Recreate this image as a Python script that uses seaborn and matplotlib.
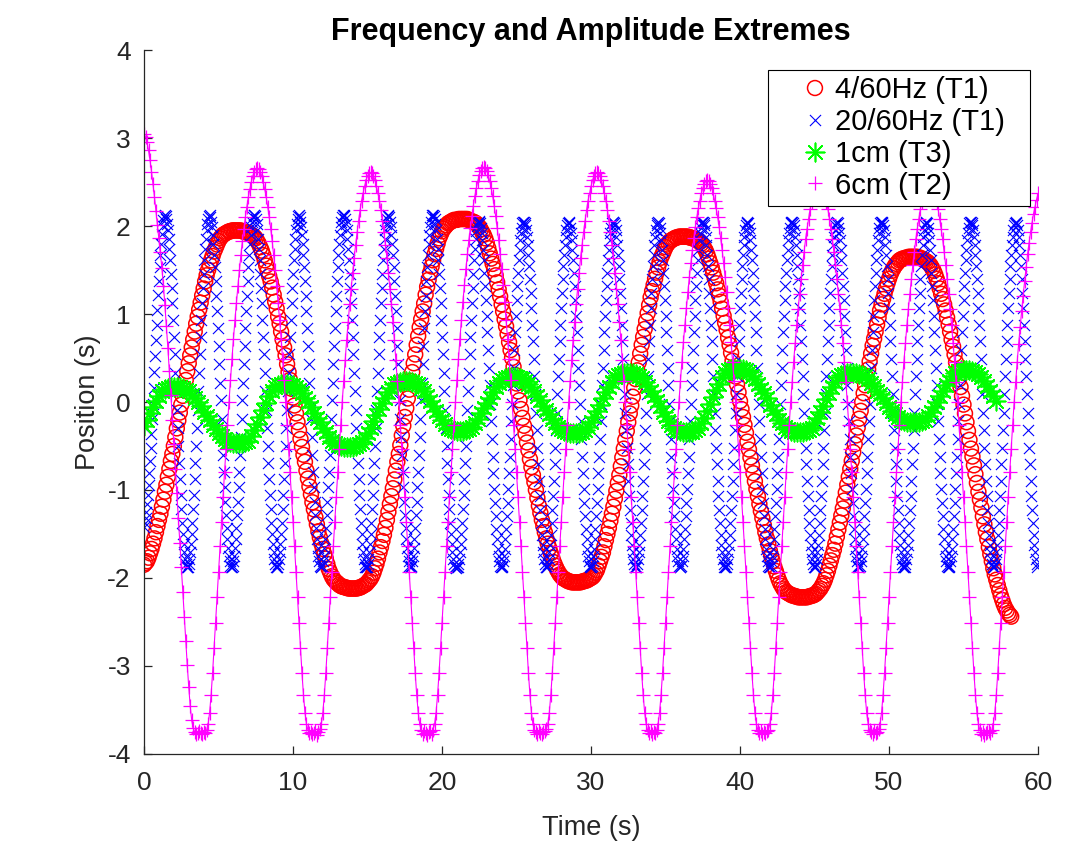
import numpy as np
import matplotlib
matplotlib.use('Agg')
import matplotlib.pyplot as plt
import seaborn as sns

# sample spacing of each trace (s)
dt_red = 0.1
dt_blue = 0.05
dt_green = 0.2
dt_pink = 0.1

# 4/60Hz (T1)
red_y = [
    -1.85, -1.83, -1.81, -1.77, -1.72, -1.67, -1.61, -1.55, -1.48, -1.41,
    -1.34, -1.27, -1.19, -1.11, -1.02, -0.94, -0.85, -0.76, -0.67, -0.59,
    -0.50, -0.40, -0.30, -0.21, -0.12, -0.03, 0.07, 0.16, 0.25, 0.35,
    0.44, 0.53, 0.62, 0.71, 0.80, 0.89, 0.97, 1.05, 1.13, 1.21,
    1.29, 1.37, 1.44, 1.50, 1.56, 1.61, 1.66, 1.71, 1.75, 1.79,
    1.83, 1.86, 1.88, 1.90, 1.91, 1.92, 1.93, 1.94, 1.94, 1.95,
    1.95, 1.95, 1.95, 1.95,
    1.95, 1.95, 1.94, 1.94, 1.93, 1.93, 1.92, 1.91, 1.90, 1.89,
    1.88, 1.86, 1.83, 1.80, 1.76, 1.72, 1.67, 1.61, 1.55, 1.49,
    1.43, 1.37, 1.30, 1.22, 1.14, 1.06, 0.97, 0.89, 0.80, 0.71,
    0.62, 0.53, 0.43, 0.34, 0.25, 0.15, 0.05, -0.04, -0.13, -0.23,
    -0.32, -0.42, -0.51, -0.60, -0.68, -0.78, -0.87, -0.96, -1.05, -1.14,
    -1.22, -1.31, -1.39, -1.47, -1.54, -1.61, -1.67, -1.73, -1.78, -1.84,
    -1.90, -1.94, -1.98, -2.01, -2.03, -2.05, -2.06, -2.08, -2.09, -2.10,
    -2.10, -2.11, -2.11, -2.12, -2.12, -2.12, -2.12, -2.12,
    -2.12, -2.12, -2.11, -2.11, -2.10, -2.09, -2.08, -2.07, -2.05, -2.03,
    -2.01, -1.98, -1.94, -1.89, -1.84, -1.78, -1.71, -1.65, -1.58, -1.51,
    -1.43, -1.34, -1.25, -1.16, -1.07, -0.98, -0.88, -0.78, -0.68, -0.59,
    -0.49, -0.38, -0.27, -0.17, -0.07, 0.04, 0.14, 0.24, 0.34, 0.44,
    0.54, 0.65, 0.75, 0.85, 0.94, 1.03, 1.12, 1.22, 1.31, 1.39,
    1.47, 1.54, 1.61, 1.68, 1.74, 1.80, 1.86, 1.90, 1.94, 1.97,
    1.99, 2.01, 2.03, 2.04, 2.05, 2.06, 2.07, 2.07, 2.07, 2.08,
    2.08, 2.08,
    2.08, 2.08, 2.08, 2.08, 2.07, 2.06, 2.05, 2.05, 2.04, 2.03,
    2.01, 1.99, 1.96, 1.93, 1.90, 1.86, 1.81, 1.75, 1.69, 1.63,
    1.57, 1.51, 1.44, 1.36, 1.28, 1.20, 1.11, 1.03, 0.94, 0.86,
    0.77, 0.68, 0.59, 0.50, 0.40, 0.31, 0.21, 0.12, 0.02, -0.08,
    -0.18, -0.27, -0.36, -0.46, -0.55, -0.65, -0.74, -0.83, -0.91, -1.00,
    -1.09, -1.18, -1.26, -1.34, -1.41, -1.48, -1.55, -1.61, -1.66, -1.72,
    -1.77, -1.82, -1.86, -1.90, -1.93, -1.96, -1.98, -2.00, -2.01, -2.02,
    -2.03, -2.04, -2.04, -2.05, -2.05, -2.05, -2.05, -2.05,
    -2.05, -2.05, -2.04, -2.04, -2.03, -2.03, -2.02, -2.01, -2.00, -1.99,
    -1.97, -1.94, -1.91, -1.86, -1.81, -1.76, -1.71, -1.64, -1.57, -1.50,
    -1.43, -1.35, -1.27, -1.19, -1.10, -1.01, -0.92, -0.83, -0.73, -0.63,
    -0.53, -0.43, -0.33, -0.23, -0.13, -0.04, 0.06, 0.16, 0.26, 0.36,
    0.45, 0.55, 0.65, 0.74, 0.83, 0.92, 1.01, 1.10, 1.19, 1.26,
    1.33, 1.40, 1.47, 1.53, 1.59, 1.64, 1.68, 1.72, 1.76, 1.79,
    1.81, 1.83, 1.84, 1.85, 1.86, 1.87, 1.87, 1.88, 1.88, 1.88,
    1.88, 1.88,
    1.88, 1.88, 1.87, 1.87, 1.86, 1.86, 1.85, 1.84, 1.83, 1.82,
    1.80, 1.78, 1.75, 1.72, 1.68, 1.63, 1.58, 1.53, 1.47, 1.41,
    1.35, 1.28, 1.21, 1.14, 1.06, 0.98, 0.90, 0.82, 0.73, 0.65,
    0.56, 0.47, 0.38, 0.29, 0.20, 0.11, 0.01, -0.08, -0.17, -0.26,
    -0.35, -0.45, -0.54, -0.63, -0.72, -0.81, -0.90, -0.99, -1.07, -1.16,
    -1.24, -1.32, -1.40, -1.48, -1.55, -1.62, -1.69, -1.75, -1.81, -1.87,
    -1.92, -1.97, -2.02, -2.06, -2.09, -2.12, -2.14, -2.16, -2.17, -2.18,
    -2.19, -2.20, -2.20, -2.21, -2.21, -2.22, -2.22, -2.22,
    -2.22, -2.22, -2.22, -2.22, -2.21, -2.21, -2.20, -2.20, -2.19, -2.18,
    -2.16, -2.14, -2.12, -2.09, -2.06, -2.02, -1.97, -1.92, -1.86, -1.80,
    -1.74, -1.68, -1.61, -1.53, -1.45, -1.37, -1.29, -1.21, -1.12, -1.03,
    -0.94, -0.85, -0.76, -0.67, -0.57, -0.48, -0.38, -0.29, -0.19, -0.10,
    0.00, 0.10, 0.19, 0.28, 0.37, 0.46, 0.55, 0.64, 0.72, 0.80,
    0.88, 0.96, 1.04, 1.11, 1.17, 1.23, 1.29, 1.35, 1.40, 1.45,
    1.49, 1.52, 1.55, 1.57, 1.59, 1.61, 1.62, 1.63, 1.63, 1.64,
    1.64, 1.65, 1.65, 1.65,
    1.65, 1.65, 1.65, 1.65, 1.64, 1.64, 1.63, 1.62, 1.61, 1.60,
    1.59, 1.57, 1.55, 1.52, 1.49, 1.45, 1.40, 1.35, 1.29, 1.23,
    1.17, 1.11, 1.04, 0.96, 0.88, 0.80, 0.71, 0.63, 0.54, 0.45,
    0.35, 0.26, 0.17, 0.07, -0.03, -0.13, -0.23, -0.33, -0.43, -0.53,
    -0.62, -0.72, -0.82, -0.92, -1.02, -1.11, -1.20, -1.30, -1.39, -1.48,
    -1.56, -1.65, -1.73, -1.81, -1.89, -1.96, -2.02, -2.08, -2.14, -2.20,
    -2.25, -2.30, -2.34, -2.37, -2.40, -2.42, -2.44,
]

# 20/60Hz (T1), one line per cycle
blue_y = [
    -1.42, -1.38, -1.32, -1.25, -1.16, -1.06, -0.94, -0.81, -0.67, -0.52, -0.36, -0.19, -0.02, 0.16, 0.34, 0.52, 0.70, 0.88, 1.05, 1.22, 1.38, 1.53, 1.67, 1.80, 1.91, 2.00, 2.07, 2.11,
    2.12, 2.11, 2.08, 2.02, 1.95, 1.85, 1.74, 1.61, 1.46, 1.30, 1.12, 0.93, 0.74, 0.54, 0.33, 0.12, -0.09, -0.30, -0.50, -0.69, -0.88, -1.06, -1.22, -1.37, -1.50, -1.61, -1.71, -1.78, -1.84, -1.87, -1.88, -1.87, -1.84, -1.78, -1.71, -1.61, -1.50, -1.37, -1.22, -1.06, -0.88, -0.69, -0.50, -0.30, -0.09, 0.12, 0.33, 0.54, 0.74, 0.93, 1.12, 1.30, 1.46, 1.61, 1.74, 1.85, 1.95, 2.02, 2.08, 2.11,
    2.12, 2.10, 2.05, 1.99, 1.90, 1.80, 1.67, 1.53, 1.38, 1.21, 1.03, 0.84, 0.64, 0.43, 0.22, 0.02, -0.19, -0.40, -0.60, -0.79, -0.97, -1.14, -1.29, -1.43, -1.56, -1.66, -1.75, -1.81, -1.86, -1.88, -1.88, -1.86, -1.81, -1.75, -1.66, -1.56, -1.43, -1.29, -1.14, -0.97, -0.79, -0.60, -0.40, -0.19, 0.02, 0.22, 0.43, 0.64, 0.84, 1.03, 1.21, 1.38, 1.53, 1.67, 1.80, 1.90, 1.99, 2.05, 2.10, 2.12,
    2.12, 2.11, 2.08, 2.02, 1.95, 1.85, 1.74, 1.61, 1.46, 1.30, 1.12, 0.93, 0.74, 0.54, 0.33, 0.12, -0.09, -0.30, -0.50, -0.69, -0.88, -1.06, -1.22, -1.37, -1.50, -1.61, -1.71, -1.78, -1.84, -1.87, -1.88, -1.87, -1.84, -1.78, -1.71, -1.61, -1.50, -1.37, -1.22, -1.06, -0.88, -0.69, -0.50, -0.30, -0.09, 0.12, 0.33, 0.54, 0.74, 0.93, 1.12, 1.30, 1.46, 1.61, 1.74, 1.85, 1.95, 2.02, 2.08, 2.11,
    2.12, 2.10, 2.05, 1.99, 1.90, 1.80, 1.67, 1.53, 1.38, 1.21, 1.03, 0.84, 0.64, 0.43, 0.22, 0.02, -0.19, -0.40, -0.60, -0.79, -0.97, -1.14, -1.29, -1.43, -1.56, -1.66, -1.75, -1.81, -1.86, -1.88, -1.88, -1.86, -1.81, -1.75, -1.66, -1.56, -1.43, -1.29, -1.14, -0.97, -0.79, -0.60, -0.40, -0.19, 0.02, 0.22, 0.43, 0.64, 0.84, 1.03, 1.21, 1.38, 1.53, 1.67, 1.80, 1.90, 1.99, 2.05, 2.10, 2.12,
    2.12, 2.11, 2.08, 2.02, 1.95, 1.85, 1.74, 1.61, 1.46, 1.30, 1.12, 0.93, 0.74, 0.54, 0.33, 0.12, -0.09, -0.30, -0.50, -0.69, -0.88, -1.06, -1.22, -1.37, -1.50, -1.61, -1.71, -1.78, -1.84, -1.87, -1.88, -1.87, -1.84, -1.78, -1.71, -1.61, -1.50, -1.37, -1.22, -1.06, -0.88, -0.69, -0.50, -0.30, -0.09, 0.12, 0.33, 0.54, 0.74, 0.93, 1.12, 1.30, 1.46, 1.61, 1.74, 1.85, 1.95, 2.02, 2.08, 2.11,
    2.12, 2.10, 2.05, 1.99, 1.90, 1.80, 1.67, 1.53, 1.38, 1.21, 1.03, 0.84, 0.64, 0.43, 0.22, 0.02, -0.19, -0.40, -0.60, -0.79, -0.97, -1.14, -1.29, -1.43, -1.56, -1.66, -1.75, -1.81, -1.86, -1.88, -1.88, -1.86, -1.81, -1.75, -1.66, -1.56, -1.43, -1.29, -1.14, -0.97, -0.79, -0.60, -0.40, -0.19, 0.02, 0.22, 0.43, 0.64, 0.84, 1.03, 1.21, 1.38, 1.53, 1.67, 1.80, 1.90, 1.99, 2.05, 2.10, 2.12,
    2.12, 2.11, 2.08, 2.02, 1.95, 1.85, 1.74, 1.61, 1.46, 1.30, 1.12, 0.93, 0.74, 0.54, 0.33, 0.12, -0.09, -0.30, -0.50, -0.69, -0.88, -1.06, -1.22, -1.37, -1.50, -1.61, -1.71, -1.78, -1.84, -1.87, -1.88, -1.89, -1.88, -1.87, -1.84, -1.78, -1.71, -1.61, -1.50, -1.37, -1.22, -1.06, -0.88, -0.69, -0.50, -0.30, -0.09, 0.12, 0.33, 0.54, 0.74, 0.93, 1.12, 1.30, 1.46, 1.61, 1.74, 1.85, 1.94, 2.00, 2.04, 2.06,
    2.05, 2.03, 1.98, 1.92, 1.84, 1.73, 1.61, 1.47, 1.32, 1.16, 0.98, 0.79, 0.59, 0.39, 0.19, -0.02, -0.22, -0.42, -0.62, -0.81, -0.99, -1.15, -1.30, -1.44, -1.56, -1.67, -1.75, -1.81, -1.86, -1.88, -1.88, -1.86, -1.81, -1.75, -1.67, -1.56, -1.44, -1.30, -1.15, -0.99, -0.81, -0.62, -0.42, -0.22, -0.02, 0.19, 0.39, 0.59, 0.79, 0.98, 1.16, 1.32, 1.47, 1.61, 1.73, 1.84, 1.92, 1.98, 2.03, 2.05,
    2.05, 2.04, 2.01, 1.95, 1.88, 1.79, 1.67, 1.55, 1.40, 1.24, 1.07, 0.88, 0.69, 0.49, 0.29, 0.09, -0.12, -0.32, -0.52, -0.71, -0.90, -1.07, -1.23, -1.38, -1.51, -1.62, -1.71, -1.78, -1.84, -1.87, -1.88, -1.87, -1.84, -1.78, -1.71, -1.62, -1.51, -1.38, -1.23, -1.07, -0.90, -0.71, -0.52, -0.32, -0.12, 0.09, 0.29, 0.49, 0.69, 0.88, 1.07, 1.24, 1.40, 1.55, 1.67, 1.79, 1.88, 1.95, 2.01, 2.04,
    2.05, 2.03, 1.98, 1.92, 1.84, 1.73, 1.61, 1.47, 1.32, 1.16, 0.98, 0.79, 0.59, 0.39, 0.19, -0.02, -0.22, -0.42, -0.62, -0.81, -0.99, -1.15, -1.30, -1.44, -1.56, -1.67, -1.75, -1.81, -1.86, -1.88, -1.88, -1.86, -1.81, -1.75, -1.67, -1.56, -1.44, -1.30, -1.15, -0.99, -0.81, -0.62, -0.42, -0.22, -0.02, 0.19, 0.39, 0.59, 0.79, 0.98, 1.16, 1.32, 1.47, 1.61, 1.73, 1.84, 1.92, 1.98, 2.03, 2.05,
    2.05, 2.04, 2.01, 1.95, 1.88, 1.79, 1.67, 1.55, 1.40, 1.24, 1.07, 0.88, 0.69, 0.49, 0.29, 0.09, -0.12, -0.32, -0.52, -0.71, -0.90, -1.07, -1.23, -1.38, -1.51, -1.62, -1.71, -1.78, -1.84, -1.87, -1.88, -1.87, -1.84, -1.78, -1.71, -1.62, -1.51, -1.38, -1.23, -1.07, -0.90, -0.71, -0.52, -0.32, -0.12, 0.09, 0.29, 0.49, 0.69, 0.88, 1.07, 1.24, 1.40, 1.55, 1.67, 1.79, 1.88, 1.95, 2.01, 2.04,
    2.05, 2.03, 1.98, 1.92, 1.84, 1.73, 1.61, 1.47, 1.32, 1.16, 0.98, 0.79, 0.59, 0.39, 0.19, -0.02, -0.22, -0.42, -0.62, -0.81, -0.99, -1.15, -1.30, -1.44, -1.56, -1.67, -1.75, -1.81, -1.86, -1.88, -1.88, -1.86, -1.81, -1.75, -1.67, -1.56, -1.44, -1.30, -1.15, -0.99, -0.81, -0.62, -0.42, -0.22, -0.02, 0.19, 0.39, 0.59, 0.79, 0.98, 1.16, 1.32, 1.47, 1.61, 1.73, 1.84, 1.92, 1.98, 2.03, 2.05,
    2.05, 2.04, 2.01, 1.95, 1.88, 1.79, 1.67, 1.55, 1.40, 1.24, 1.07, 0.88, 0.69, 0.49, 0.29, 0.09, -0.12, -0.32, -0.52, -0.71, -0.90, -1.07, -1.23, -1.38, -1.51, -1.62, -1.71, -1.78, -1.84, -1.87, -1.88, -1.87, -1.84, -1.78, -1.71, -1.62, -1.51, -1.38, -1.23, -1.07, -0.90, -0.71, -0.52, -0.32, -0.12, 0.09, 0.29, 0.49, 0.69, 0.88, 1.07, 1.24, 1.40, 1.55, 1.67, 1.79, 1.88, 1.95, 2.01, 2.04,
    2.05, 2.03, 1.98, 1.92, 1.84, 1.73, 1.61, 1.47, 1.32, 1.16, 0.98, 0.79, 0.59, 0.39, 0.19, -0.02, -0.22, -0.42, -0.62, -0.81, -0.99, -1.15, -1.30, -1.44, -1.56, -1.67, -1.75, -1.81, -1.86, -1.88, -1.88, -1.86, -1.81, -1.75, -1.67, -1.56, -1.44, -1.30, -1.15, -0.99, -0.81, -0.62, -0.42, -0.22, -0.02, 0.19, 0.39, 0.59, 0.79, 0.98, 1.16, 1.32, 1.47, 1.61, 1.73, 1.84, 1.92, 1.98, 2.03, 2.05,
    2.05, 2.04, 2.01, 1.95, 1.88, 1.79, 1.67, 1.55, 1.40, 1.24, 1.07, 0.88, 0.69, 0.49, 0.29, 0.09, -0.12, -0.32, -0.52, -0.71, -0.90, -1.07, -1.23, -1.38, -1.51, -1.62, -1.71, -1.78, -1.84, -1.87, -1.88, -1.87, -1.84, -1.78, -1.71, -1.62, -1.51, -1.38, -1.23, -1.07, -0.90, -0.71, -0.52, -0.32, -0.12, 0.09, 0.29, 0.49, 0.69, 0.88, 1.07, 1.24, 1.40, 1.55, 1.67, 1.79, 1.88, 1.95, 2.01, 2.04,
    2.05, 2.03, 1.98, 1.92, 1.84, 1.73, 1.61, 1.47, 1.32, 1.16, 0.98, 0.79, 0.59, 0.39, 0.19, -0.02, -0.22, -0.42, -0.62, -0.81, -0.99, -1.15, -1.30, -1.44, -1.56, -1.67, -1.75, -1.81, -1.86, -1.88, -1.88, -1.86, -1.81, -1.75, -1.67, -1.56, -1.44, -1.30, -1.15, -0.99, -0.81, -0.62, -0.42, -0.22, -0.02, 0.19, 0.39, 0.59, 0.79, 0.98, 1.16, 1.32, 1.47, 1.61, 1.73, 1.84, 1.92, 1.98, 2.03, 2.05,
    2.05, 2.04, 2.01, 1.95, 1.88, 1.79, 1.67, 1.55, 1.40, 1.24, 1.07, 0.88, 0.69, 0.49, 0.29, 0.09, -0.12, -0.32, -0.52, -0.71, -0.90, -1.07, -1.23, -1.38, -1.51, -1.62, -1.71, -1.78, -1.84, -1.87, -1.88, -1.87, -1.84, -1.78, -1.71, -1.62, -1.51, -1.38, -1.23, -1.07, -0.90, -0.71, -0.52, -0.32, -0.12, 0.09, 0.29, 0.49, 0.69, 0.88, 1.07, 1.24, 1.40, 1.55, 1.67, 1.79, 1.88, 1.95, 2.01, 2.04,
    2.05, 2.03, 1.98, 1.92, 1.84, 1.73, 1.61, 1.47, 1.32, 1.16, 0.98, 0.79, 0.59, 0.39, 0.19, -0.02, -0.22, -0.42, -0.62, -0.81, -0.99, -1.15, -1.30, -1.44, -1.56, -1.67, -1.75, -1.81, -1.86, -1.88, -1.88, -1.86, -1.81, -1.75, -1.67, -1.56, -1.44, -1.30, -1.15, -0.99, -0.81, -0.62, -0.42, -0.22, -0.02, 0.19, 0.39, 0.59, 0.79, 0.98, 1.16, 1.32, 1.47, 1.61, 1.73, 1.84, 1.92, 1.98, 2.03, 2.05,
    2.05, 2.04, 2.01, 1.95, 1.88, 1.79, 1.67, 1.55, 1.40, 1.24, 1.07, 0.88, 0.69, 0.49, 0.29, 0.09, -0.12, -0.32, -0.52, -0.71, -0.90, -1.07, -1.23, -1.38, -1.51, -1.62, -1.71, -1.78, -1.84, -1.87, -1.88, -1.87, -1.84, -1.78, -1.71, -1.62, -1.51, -1.38, -1.23, -1.07, -0.90, -0.71, -0.52, -0.32, -0.12, 0.09, 0.29, 0.49, 0.69, 0.88, 1.07, 1.24, 1.40, 1.55, 1.67, 1.79, 1.88, 1.95, 2.01, 2.04,
    2.05, 2.04, 2.01, 1.95, 1.88, 1.79, 1.67, 1.55, 1.40, 1.24, 1.07, 0.88, 0.69, 0.49, 0.29, 0.09, -0.12, -0.32, -0.52, -0.71, -0.90, -1.07, -1.23, -1.38, -1.51, -1.62, -1.71, -1.78, -1.84, -1.87,
]

# 1cm (T3)
green_y = [
    -0.27, -0.20, -0.13, -0.06, 0.01, 0.07, 0.12, 0.15, 0.16, 0.17,
    0.17, 0.17, 0.17, 0.16, 0.14, 0.12, 0.08, 0.04, 0.00, -0.05, -0.11,
    -0.16, -0.21, -0.26, -0.31, -0.35, -0.39, -0.42, -0.45, -0.46, -0.47, -0.47,
    -0.47, -0.47, -0.46, -0.44, -0.39, -0.32, -0.25, -0.17, -0.09, -0.01, 0.07,
    0.13, 0.17, 0.19, 0.20,
    0.20, 0.20, 0.19, 0.19, 0.17, 0.14, 0.10, 0.05, 0.00, -0.06, -0.12, -0.18,
    -0.23, -0.29, -0.34, -0.40, -0.44, -0.47, -0.49, -0.50, -0.51, -0.51,
    -0.51, -0.51, -0.50, -0.48, -0.45, -0.41, -0.35, -0.29, -0.22, -0.15, -0.08,
    -0.01, 0.05, 0.11, 0.16, 0.20, 0.22, 0.23, 0.24, 0.24,
    0.24, 0.23, 0.22, 0.20, 0.16, 0.12, 0.07, 0.01, -0.05, -0.10, -0.16, -0.21,
    -0.25, -0.29, -0.31, -0.32, -0.33, -0.33,
    -0.33, -0.32, -0.31, -0.28, -0.24, -0.19, -0.13, -0.07, -0.01, 0.05, 0.11,
    0.17, 0.22, 0.25, 0.27, 0.28, 0.28,
    0.28, 0.28, 0.27, 0.26, 0.24, 0.21, 0.17, 0.12, 0.07, 0.02, -0.04, -0.09,
    -0.14, -0.19, -0.24, -0.28, -0.31, -0.33, -0.34, -0.35, -0.35,
    -0.35, -0.35, -0.34, -0.32, -0.28, -0.23, -0.17, -0.10, -0.03, 0.04, 0.11,
    0.17, 0.23, 0.28, 0.31, 0.32, 0.33, 0.33,
    0.33, 0.33, 0.32, 0.30, 0.27, 0.23, 0.18, 0.13, 0.07, 0.01, -0.05, -0.11,
    -0.16, -0.22, -0.26, -0.30, -0.32, -0.33, -0.34, -0.34,
    -0.34, -0.34, -0.32, -0.29, -0.24, -0.18, -0.10, -0.02, 0.06, 0.14, 0.21,
    0.28, 0.33, 0.36, 0.38, 0.38,
    0.38, 0.38, 0.37, 0.36, 0.34, 0.30, 0.26, 0.21, 0.15, 0.10, 0.04, -0.03,
    -0.09, -0.14, -0.20, -0.24, -0.28, -0.31, -0.33, -0.34, -0.34, -0.34,
    -0.34, -0.33, -0.32, -0.29, -0.24, -0.18, -0.11, -0.04, 0.03, 0.10, 0.17,
    0.23, 0.28, 0.31, 0.32, 0.33, 0.33,
    0.33, 0.33, 0.32, 0.31, 0.29, 0.26, 0.22, 0.18, 0.13, 0.09, 0.04, -0.01,
    -0.06, -0.10, -0.14, -0.17, -0.20, -0.22, -0.23, -0.23, -0.23,
    -0.23, -0.23, -0.22, -0.20, -0.16, -0.11, -0.06, 0.00, 0.07, 0.13, 0.19,
    0.24, 0.29, 0.33, 0.35, 0.36, 0.36,
    0.36, 0.36, 0.35, 0.34, 0.32, 0.28, 0.24, 0.18, 0.13, 0.07, 0.01,
]

# 6cm (T2)
pink_y = [
    3.05, 3.01, 2.95, 2.86, 2.75, 2.62, 2.48, 2.33, 2.17, 2.01,
    1.86, 1.70, 1.52, 1.32, 1.10, 0.86, 0.61, 0.35, 0.08, -0.20,
    -0.48, -0.76, -1.04, -1.32, -1.60, -1.88, -2.16, -2.44, -2.72, -2.99,
    -3.24, -3.46, -3.62, -3.71, -3.75, -3.77, -3.76, -3.74, -3.76,
    -3.77, -3.75, -3.76, -3.73, -3.66, -3.53, -3.33, -3.08, -2.80, -2.51, -2.22, -1.93, -1.64,
    -1.36, -1.08, -0.80, -0.53, -0.26, 0.00, 0.25, 0.49, 0.72, 0.93, 1.13, 1.32, 1.50, 1.67,
    1.83, 1.97, 2.10, 2.22, 2.33, 2.42, 2.50, 2.57, 2.62, 2.65, 2.66,
    2.65, 2.62, 2.57, 2.50, 2.42, 2.33, 2.22, 2.10, 1.97, 1.83, 1.67, 1.50, 1.32, 1.13, 0.93,
    0.72, 0.49, 0.25, 0.00, -0.26, -0.53, -0.80, -1.08, -1.36, -1.64, -1.93, -2.22, -2.51,
    -2.80, -3.08, -3.33, -3.53, -3.66, -3.73, -3.76, -3.75, -3.77, -3.76,
    -3.74, -3.78, -3.75, -3.72, -3.66, -3.53, -3.33, -3.08, -2.80, -2.51, -2.22, -1.93, -1.64,
    -1.36, -1.08, -0.80, -0.53, -0.26, 0.00, 0.24, 0.48, 0.71, 0.91, 1.11, 1.29, 1.47, 1.64,
    1.79, 1.93, 2.06, 2.18, 2.29, 2.37, 2.45, 2.52, 2.57, 2.60, 2.61,
    2.60, 2.57, 2.52, 2.45, 2.37, 2.29, 2.18, 2.06, 1.93, 1.79, 1.64, 1.47, 1.29, 1.11, 0.91,
    0.71, 0.48, 0.24, 0.00, -0.26, -0.53, -0.80, -1.08, -1.36, -1.64, -1.93, -2.22, -2.51,
    -2.80, -3.08, -3.33, -3.53, -3.66, -3.73, -3.77, -3.74, -3.76, -3.78,
    -3.75, -3.74, -3.77, -3.73, -3.66, -3.53, -3.33, -3.08, -2.80, -2.51, -2.22, -1.93, -1.64,
    -1.36, -1.08, -0.80, -0.53, -0.26, 0.00, 0.25, 0.49, 0.72, 0.93, 1.14, 1.33, 1.51, 1.68,
    1.84, 1.98, 2.11, 2.23, 2.34, 2.43, 2.51, 2.58, 2.63, 2.66, 2.67,
    2.66, 2.63, 2.58, 2.51, 2.43, 2.34, 2.23, 2.11, 1.98, 1.84, 1.68, 1.51, 1.33, 1.14, 0.93,
    0.72, 0.49, 0.25, 0.00, -0.26, -0.53, -0.80, -1.08, -1.36, -1.64, -1.93, -2.22, -2.51,
    -2.80, -3.08, -3.33, -3.53, -3.66, -3.73, -3.75, -3.77, -3.74, -3.76,
    -3.77, -3.75, -3.74, -3.72, -3.66, -3.53, -3.33, -3.08, -2.80, -2.51, -2.22, -1.93, -1.64,
    -1.36, -1.08, -0.80, -0.53, -0.26, 0.00, 0.24, 0.48, 0.71, 0.91, 1.11, 1.29, 1.47, 1.64,
    1.79, 1.93, 2.06, 2.18, 2.29, 2.37, 2.45, 2.52, 2.57, 2.60, 2.61,
    2.60, 2.57, 2.52, 2.45, 2.37, 2.29, 2.18, 2.06, 1.93, 1.79, 1.64, 1.47, 1.29, 1.11, 0.91,
    0.71, 0.48, 0.24, 0.00, -0.26, -0.53, -0.80, -1.08, -1.36, -1.64, -1.93, -2.22, -2.51,
    -2.80, -3.08, -3.33, -3.53, -3.66, -3.73, -3.76, -3.74, -3.77,
    -3.75, -3.76, -3.73, -3.66, -3.53, -3.33, -3.08, -2.80, -2.51, -2.22, -1.93, -1.64,
    -1.36, -1.08, -0.80, -0.53, -0.26, 0.00, 0.24, 0.46, 0.68, 0.88, 1.07, 1.25, 1.42, 1.58,
    1.73, 1.86, 1.99, 2.10, 2.20, 2.29, 2.37, 2.43, 2.48, 2.51, 2.52,
    2.51, 2.48, 2.43, 2.37, 2.29, 2.20, 2.10, 1.99, 1.86, 1.73, 1.58, 1.42, 1.25, 1.07, 0.88,
    0.68, 0.46, 0.24, 0.00, -0.26, -0.53, -0.80, -1.08, -1.36, -1.64, -1.93, -2.22, -2.51,
    -2.80, -3.08, -3.33, -3.53, -3.66, -3.73, -3.76, -3.74, -3.77, -3.75,
    -3.76, -3.74, -3.73, -3.66, -3.53, -3.33, -3.08, -2.80, -2.51, -2.22, -1.93, -1.64,
    -1.36, -1.08, -0.80, -0.53, -0.26, 0.00, 0.23, 0.46, 0.67, 0.87, 1.06, 1.23, 1.40, 1.56,
    1.71, 1.85, 1.97, 2.08, 2.19, 2.27, 2.35, 2.41, 2.46, 2.49, 2.50,
    2.49, 2.46, 2.41, 2.35, 2.27, 2.19, 2.08, 1.97, 1.85, 1.71, 1.56, 1.40, 1.23, 1.06, 0.87,
    0.67, 0.46, 0.23, 0.00, -0.26, -0.53, -0.80, -1.08, -1.36, -1.64, -1.93, -2.22, -2.51,
    -2.80, -3.08, -3.33, -3.53, -3.66, -3.73, -3.75, -3.77, -3.74,
    -3.76, -3.75, -3.72, -3.66, -3.53, -3.33, -3.08, -2.80, -2.51, -2.22, -1.93, -1.64,
    -1.36, -1.08, -0.80, -0.53, -0.26, 0.00, 0.23, 0.46, 0.67, 0.87, 1.06, 1.23, 1.40, 1.56,
    1.71, 1.85, 1.97, 2.08, 2.19, 2.27, 2.35, 2.41, 2.46, 2.49, 2.50,
    2.49, 2.46, 2.41, 2.35, 2.27, 2.19, 2.08, 1.97, 1.85, 1.71, 1.56, 1.40, 1.23, 1.06, 0.87,
    0.67, 0.46, 0.23, 0.00, -0.26, -0.53, -0.80, -1.08, -1.36, -1.64, -1.93, -2.22, -2.51,
    -2.80, -3.08, -3.33, -3.53, -3.66, -3.73, -3.77, -3.75, -3.78, -3.76,
    -3.75, -3.74, -3.76, -3.73, -3.66, -3.53, -3.33, -3.08, -2.80, -2.51, -2.22, -1.93, -1.64,
    -1.36, -1.08, -0.80, -0.53, -0.26, 0.00, 0.23, 0.45, 0.66, 0.85, 1.03, 1.21, 1.37, 1.53,
    1.68, 1.81, 1.93, 2.04, 2.14, 2.22, 2.30, 2.37,
]

labels = ['4/60Hz (T1)', '20/60Hz (T1)', '1cm (T3)', '6cm (T2)']

t_red = np.arange(len(red_y)) * dt_red
t_blue = np.arange(len(blue_y)) * dt_blue
t_green = np.arange(len(green_y)) * dt_green
t_pink = np.arange(len(pink_y)) * dt_pink

sns.set_theme(style='white')
plt.rcParams['font.family'] = ['Liberation Sans', 'DejaVu Sans']
plt.rcParams['axes.unicode_minus'] = False
dark = '#262626'

fig = plt.figure(figsize=(10.79, 8.49), dpi=100)
ax = fig.add_axes([0.1335, 0.112, 0.8285, 0.829])

sns.scatterplot(x=t_red, y=red_y, marker='o', s=115, facecolors='none',
                edgecolor='red', color='red', linewidth=1.1, ax=ax, label=labels[0])
sns.scatterplot(x=t_blue, y=blue_y, marker='x', s=64, color='blue',
                linewidth=0.8, ax=ax, label=labels[1])
sns.scatterplot(x=t_green, y=green_y, marker=(8, 2, 0), s=175, color='#00ff00',
                linewidth=1.2, ax=ax, label=labels[2])
sns.lineplot(x=t_pink, y=pink_y, color='magenta', linewidth=0.8, ax=ax,
             estimator=None, sort=False, legend=False)
sns.scatterplot(x=t_pink, y=pink_y, marker='+', s=110, color='magenta',
                linewidth=0.9, ax=ax, label=labels[3])

ax.set_xlim(0, 60)
ax.set_ylim(-4, 4)
ax.set_xticks(np.arange(0, 61, 10))
ax.set_yticks(np.arange(-4, 5, 1))
sns.despine(ax=ax)
for side in ['left', 'bottom']:
    ax.spines[side].set_color(dark)
    ax.spines[side].set_linewidth(0.9)
ax.tick_params(direction='in', length=6, width=0.9, colors=dark,
               labelsize=19, left=True, bottom=True)
ax.tick_params(axis='x', pad=12)
ax.tick_params(axis='y', pad=9.5)

ax.set_xlabel('Time (s)', fontsize=19.5, color=dark, labelpad=15)
ax.set_ylabel('Position (s)', fontsize=19.5, color=dark, labelpad=4.5)
ax.set_title('Frequency and Amplitude Extremes', fontsize=22,
             fontweight='bold', color='black', pad=7)

handles, labs = ax.get_legend_handles_labels()
leg = ax.legend(handles, labs, loc='upper left',
                bbox_to_anchor=(0.698, 0.777, 0.293, 0.195), mode='expand',
                borderaxespad=0, frameon=True, fancybox=False, framealpha=1,
                edgecolor='black', fontsize=21, handlelength=2.78,
                handletextpad=-0.7, labelspacing=0.13, borderpad=0.22,
                scatteryoffsets=[0.5], labelcolor='black')
leg.get_frame().set_linewidth(0.8)

fig.savefig('out.png', dpi=100)
